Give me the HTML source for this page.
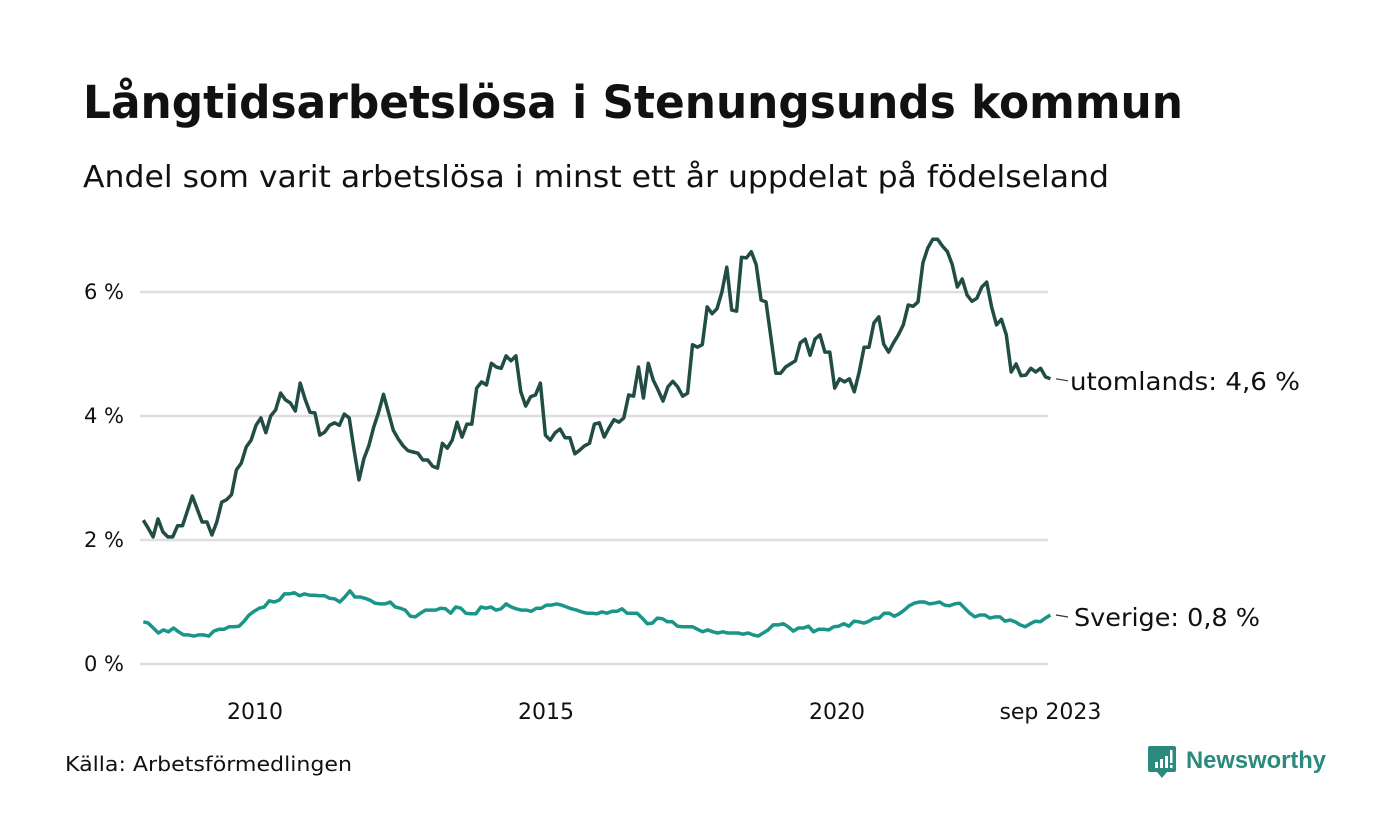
<!DOCTYPE html>
<html><head><meta charset="utf-8"><style>
html,body{margin:0;padding:0;background:#fff;}
svg{display:block;font-family:"DejaVu Sans","Liberation Sans",sans-serif;}
</style></head><body>
<svg id="chart" width="1400" height="840" viewBox="0 0 1400 840" xmlns="http://www.w3.org/2000/svg">
<text x="83" y="118" font-size="45" font-weight="bold" fill="#111" textLength="1100" lengthAdjust="spacingAndGlyphs">Långtidsarbetslösa i Stenungsunds kommun</text>
<text x="83" y="187" font-size="30" fill="#111" textLength="1026" lengthAdjust="spacingAndGlyphs">Andel som varit arbetslösa i minst ett år uppdelat på födelseland</text>
<g id="grid"></g>
<g id="yticks"></g>
<g id="xticks"></g>
<g id="series"></g>
<text x="65" y="771" font-size="20" fill="#111" textLength="287" lengthAdjust="spacingAndGlyphs">Källa: Arbetsförmedlingen</text>
<g>
<path d="M1150 746 h24 a2 2 0 0 1 2 2 v22 a2 2 0 0 1 -2 2 h-7 l-5 6 l-5 -6 h-7 a2 2 0 0 1 -2 -2 v-22 a2 2 0 0 1 2 -2z" fill="#2a8a7e"/>
<rect x="1155" y="762" width="3" height="6" fill="#fff"/><rect x="1160" y="759" width="3" height="9" fill="#fff"/><rect x="1165" y="756" width="3" height="12" fill="#fff"/><rect x="1170" y="750" width="2.5" height="13" fill="#fff"/><rect x="1170" y="765" width="2.5" height="3" fill="#fff"/>
<text x="1186" y="768" font-size="24" font-weight="bold" fill="#2a8a7e" font-family="Liberation Sans, sans-serif" textLength="140" lengthAdjust="spacingAndGlyphs">Newsworthy</text>
</g>
</svg>
<script>
const yTicks = [0, 2, 4, 6];
const yTickLabels = ["0 %", "2 %", "4 %", "6 %"];
const xTicks = [2010, 2015, 2020, 2023.667];
const xTickLabels = ["2010", "2015", "2020", "sep 2023"];
const startYear = 2008.08;
const endYear = 2023.667;
const foreignValues = [2.32,2.19,2.05,2.34,2.13,2.05,2.05,2.23,2.23,2.47,2.71,2.50,2.29,2.29,2.08,2.29,2.61,2.65,2.73,3.13,3.24,3.50,3.61,3.85,3.97,3.73,4.00,4.10,4.37,4.26,4.21,4.08,4.53,4.27,4.06,4.05,3.69,3.74,3.85,3.89,3.85,4.03,3.97,3.45,2.97,3.31,3.52,3.82,4.06,4.35,4.06,3.77,3.63,3.52,3.44,3.42,3.40,3.29,3.29,3.19,3.16,
3.56,3.48,3.61,3.90,3.66,3.87,3.87,4.45,4.55,4.50,4.85,4.79,4.77,4.97,4.89,4.97,4.39,4.16,4.31,4.34,4.53,3.69,3.61,3.73,3.79,3.65,3.65,3.39,3.45,3.52,3.56,3.87,3.89,3.66,3.81,3.94,3.90,3.97,4.34,4.32,4.79,4.29,4.85,4.58,4.42,4.24,4.47,4.56,4.47,4.32,4.37,
5.15,5.11,5.15,5.76,5.65,5.73,6.00,6.40,5.71,5.69,6.56,6.55,6.65,6.44,5.87,5.84,5.27,4.69,4.69,4.79,4.84,4.89,5.18,5.24,4.98,5.24,5.31,5.03,5.03,4.45,4.60,4.55,4.60,4.39,4.71,5.11,5.11,5.50,5.60,5.16,5.03,5.18,5.31,5.47,5.79,5.77,5.84,6.47,6.71,6.85,6.85,6.74,6.65,6.44,6.08,6.21,5.95,5.85,5.90,6.08,6.16,5.76,5.47,5.56,5.31,4.71,4.84,4.65,4.66,4.77,4.71,4.77,4.63,4.60];
const swedenValues = [.68,.66,.58,.50,.55,.52,.58,.52,.47,.47,.45,.47,.47,.45,.53,.56,.56,.60,.60,.61,.69,.79,.85,.90,.92,1.02,1.00,1.03,1.13,1.13,1.15,1.10,1.13,1.11,1.11,1.10,1.10,1.06,1.05,1.00,1.08,1.18,1.08,1.08,1.06,1.03,.98,.97,.97,1.00,.92,.90,.87,.77,.76,.82,.87,.87,.87,.90,.89,.82,.92,.90,.82,.81,.81,.92,.90,.92,.87,.89,.97,.92,.89,.87,.87,.85,.90,.90,.95,.95,.97,.95,.92,.89,.87,.84,.82,.82,.81,.84,
.82,.85,.85,.89,.82,.82,.82,.74,.65,.66,.74,.73,.68,.68,.61,.60,.60,.60,.56,.52,.55,.52,.50,.52,.50,.50,.50,.48,.50,.47,.45,.50,.55,.63,.63,.65,.60,.53,.58,.58,.61,.52,.56,.56,.55,.60,.61,.65,.61,.69,.68,.66,.69,.74,.74,.82,.82,.77,.81,.87,.94,.98,1.00,1.00,.97,.98,1.00,.95,.94,.97,.98,.90,.82,.76,.79,.79,.74,.76,.76,.69,.71,.68,.63,.60,.65,.69,.68,.74,.79];
const seriesNames = ["utomlands", "Sverige"];
const seriesColors = ["#214d45", "#1a9688"];

const NS = "http://www.w3.org/2000/svg";
function xScale(t){ return 255 + (t - 2010) * 58.2; }
function yScale(v){ return 664 - v * 62; }
function mk(tag, attrs, parent){ const e = document.createElementNS(NS, tag); for (const k in attrs) e.setAttribute(k, attrs[k]); parent.appendChild(e); return e; }
function fmt(v){ return v.toFixed(1).replace(".", ","); }

const grid = document.getElementById("grid"), yt = document.getElementById("yticks"), xt = document.getElementById("xticks"), sg = document.getElementById("series");
yTicks.forEach((v, i) => {
  const l = mk("line", {x1: 140, x2: 1048, y1: yScale(v), y2: yScale(v), stroke: "#dedede", "stroke-width": 2.5}, grid);
  
  
  const t = mk("text", {x: 124, y: yScale(v) + 7, "text-anchor": "end", "font-size": 21, fill: "#111"}, yt);
  t.textContent = yTickLabels[i];
  
  
});
xTicks.forEach((v, i) => {
  const t = mk("text", {x: xScale(v), y: 719, "text-anchor": "middle", "font-size": 22, fill: "#111"}, xt);
  t.textContent = xTickLabels[i];
  
  
});
[foreignValues, swedenValues].forEach((vals, si) => {
  const n = vals.length, step = (endYear - startYear) / (n - 1);
  const pts = vals.map((v, i) => xScale(startYear + i * step).toFixed(1) + "," + yScale(v).toFixed(1)).join(" ");
  const p = mk("polyline", {points: pts, fill: "none", stroke: seriesColors[si], "stroke-width": 3.5, "stroke-linejoin": "round"}, sg);
  
  
  const last = vals[n - 1], ly = yScale(last);
  const d = mk("line", {x1: 1056, x2: 1068, y1: ly, y2: ly + 2, stroke: "#333", "stroke-width": 1.2}, sg);
  
  
  const t = mk("text", {x: si === 0 ? 1070 : 1074, y: ly + 11, "font-size": 25, fill: "#111", textLength: si === 0 ? 230 : 186, lengthAdjust: "spacingAndGlyphs"}, sg);
  t.textContent = seriesNames[si] + ": " + fmt(last) + " %";
  
  
});
</script>
</body></html>
